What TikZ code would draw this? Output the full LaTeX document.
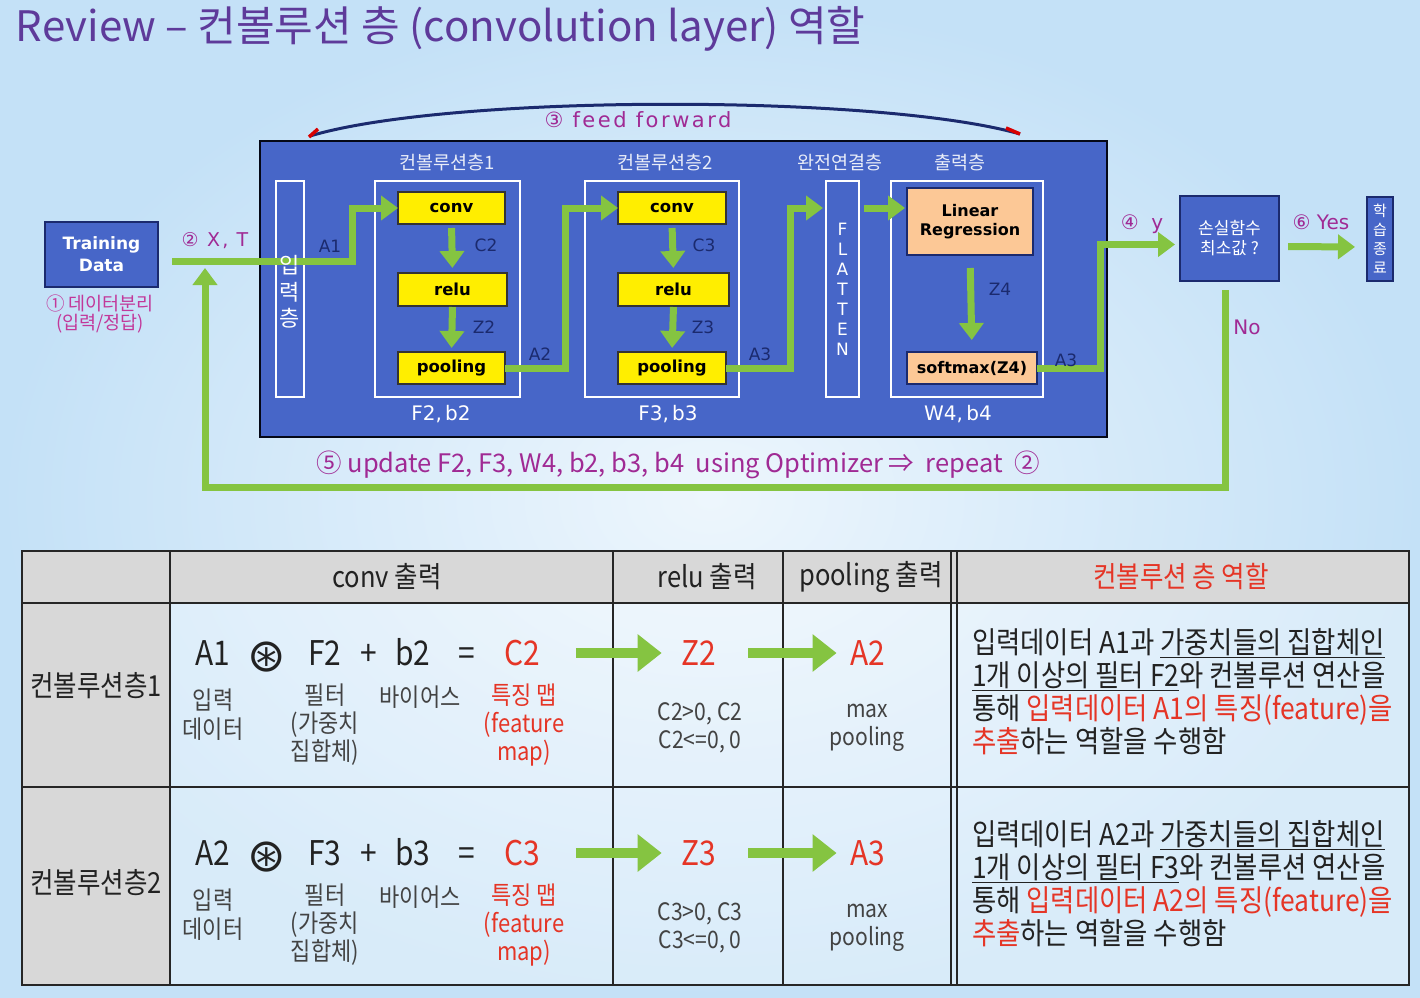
\documentclass[tikz,border=0pt]{standalone}
\usepackage{fontspec}
\usetikzlibrary{arrows.meta}
\setmainfont{Noto Sans CJK KR}
\newfontfamily\kr{Noto Sans CJK KR}
\newfontfamily\krn[FakeStretch=0.88]{Noto Sans CJK KR}
\newfontfamily\vd{DejaVu Sans}
\newfontfamily\vdw[LetterSpace=12]{DejaVu Sans}
\newcommand\fsz[2]{\fontsize{#1}{#2}\selectfont}

\definecolor{bgblue}{HTML}{C4E1F7}
\definecolor{panel}{HTML}{4766C8}
\definecolor{navy}{HTML}{1B2A6E}
\definecolor{gr}{HTML}{85C441}
\definecolor{yel}{HTML}{FFEE00}
\definecolor{peach}{HTML}{FCC896}
\definecolor{mag}{HTML}{A02A94}
\definecolor{pinkish}{HTML}{C2389A}
\definecolor{ttl}{HTML}{5E3A9A}
\definecolor{tred}{HTML}{E53526}
\definecolor{hdr}{HTML}{D8D8D8}
\definecolor{ink}{HTML}{222222}

\tikzset{
  every node/.style={inner sep=0pt, outer sep=0pt},
  blk/.style={draw=navy, line width=1.8pt, fill=panel, text=white},
  wframe/.style={draw=white, line width=1.8pt},
  ybox/.style={draw=black!80, line width=1.6pt, fill=yel, text=black,
    font=\vd\bfseries\fsz{16.5}{19}},
  pbox/.style={draw=navy, line width=1.6pt, fill=peach, text=black, align=center,
    font=\vd\bfseries\fsz{16}{19.5}},
  lbl/.style={font=\vd\fsz{17}{19}, text=navy},
  wlbl/.style={font=\vd\fsz{20}{22}, text=white},
  hlbl/.style={font=\kr\fsz{18.5}{20}, text=white!88!panel},
  mlbl/.style={font=\vd\fsz{20}{22}, text=mag},
  garrow/.style={draw=gr, line width=7pt, -{Triangle[length=17pt,width=24pt]}},
  tarrow/.style={draw=gr, line width=10pt, -{Triangle[length=24pt,width=36pt]}},
  eq/.style={font=\krn\fsz{34}{34}, text=ink, text height=25pt, text depth=0pt},
  sub/.style={font=\krn\fsz{25}{29}, text=ink!85, align=center},
  hd/.style={font=\krn\fsz{29}{30}, text=ink},
  rtx/.style={font=\krn\fsz{30}{33}, text=ink, anchor=west, text height=22pt, text depth=6pt},
}

\begin{document}
\begin{tikzpicture}[x=1pt,y=-1pt]
\useasboundingbox (0,0) rectangle (1420,997);
% backdrop
\shade[inner color=white!70!bgblue, outer color=bgblue] (0,0) rectangle (1420,997);

% title
\node[anchor=west, font=\kr\fsz{42}{44}, text=ttl] (title) at (16,29)
  {Review – 컨볼루션 층 (convolution layer) 역할};

% ---------- network diagram ----------
\node[blk, minimum width=113pt, minimum height=65pt, align=center,
  font=\vd\bfseries\fsz{17}{22}] (td) at (101.5,254.5) {Training\\Data};
\node[font=\kr\fsz{18.5}{19}, text=pinkish, align=center] (s1) at (100,314)
  {① 데이터분리\\(입력/정답)};
\node[font=\vdw\fsz{19}{22}, text=mag] (xt) at (215,241) {② X, T};

\node[blk, draw=black!80!navy, line width=2pt, minimum width=847pt,
  minimum height=296pt] (panel) at (683.5,289) {};

% feed-forward arc over the panel
\draw[navy, line width=3pt] (310,136) .. controls (450,94) and (880,94) .. (1020,134);
\draw[red!85!black, line width=3.5pt] (309,137) -- (318,129);
\draw[red!85!black, line width=3.5pt] (1006,128) -- (1020,134);
\node[font=\vdw\fsz{21}{24}, text=mag] (ff) at (638,120) {③ feed forward};

% layer frames
\node[wframe, minimum width=28pt,  minimum height=216pt] (inl)  at (290,289) {};
\node[wframe, minimum width=145pt, minimum height=216pt] (g1)   at (447.5,289) {};
\node[wframe, minimum width=154pt, minimum height=216pt] (g2)   at (662,289) {};
\node[wframe, minimum width=33pt,  minimum height=216pt] (flat) at (842.5,289) {};
\node[wframe, minimum width=152pt, minimum height=216pt] (g3)   at (967,289) {};

\node[hlbl] (h1) at (447,163) {컨볼루션층1};
\node[hlbl] (h2) at (665,163) {컨볼루션층2};
\node[hlbl] (h3) at (840,163) {완전연결층};
\node[hlbl] (h4) at (960,163) {출력층};

% operation boxes
\node[ybox, minimum width=107pt, minimum height=32pt] (conv1) at (451.5,208) {conv};
\node[ybox, minimum width=109pt, minimum height=33pt] (relu1) at (452.5,289.5) {relu};
\node[ybox, minimum width=107pt, minimum height=32pt] (pool1) at (451.5,368) {pooling};
\node[ybox, minimum width=108pt, minimum height=32pt] (conv2) at (672,208) {conv};
\node[ybox, minimum width=111pt, minimum height=33pt] (relu2) at (673.5,289.5) {relu};
\node[ybox, minimum width=108pt, minimum height=32pt] (pool2) at (672,368) {pooling};
\node[pbox, minimum width=126pt, minimum height=67pt] (lin) at (970,221.5) {Linear\\Regression};
\node[pbox, minimum width=130pt, minimum height=32pt] (soft) at (972,368) {softmax(Z4)};

\node[blk, minimum width=99pt, minimum height=85pt, align=center,
  font=\kr\fsz{17}{20}] (loss) at (1229.5,238.5) {손실함수\\최소값 ?};
\node[blk, minimum width=26pt, minimum height=84pt, align=center,
  font=\kr\fsz{15}{19}] (stop) at (1380,239) {학\\습\\종\\료};

% green connectors
\coordinate (xtstart) at (172,261);
\coordinate (loopend) at (205,268);
\draw[garrow] (xtstart) -- ++(180,0) |- (conv1.west);
\draw[garrow, shorten <=4pt, shorten >=5pt] (conv1.south) -- (relu1.north);
\draw[garrow, shorten <=1pt, shorten >=4pt] (relu1.south) -- (pool1.north);
\draw[garrow] (pool1.east) -- ++(60,0) |- (conv2.west);
\draw[garrow, shorten <=4pt, shorten >=5pt] (conv2.south) -- (relu2.north);
\draw[garrow, shorten <=1pt, shorten >=4pt] (relu2.south) -- (pool2.north);
\draw[garrow, shorten >=3pt] (pool2.east) -- ++(64,0) |- (flat.west |- conv2.west);
\draw[garrow, shorten <=5pt, shorten >=2pt] (flat.east |- conv2.west) -- (lin.west |- conv2.west);
\draw[garrow, shorten <=13pt, shorten >=12pt] (lin.south) -- (soft.north);
\draw[garrow, shorten >=5pt] (soft.east) -- ++(63,0) |- ([yshift=-6pt]loss.west);
\draw[garrow, shorten <=9pt, shorten >=12pt] ([yshift=-8pt]loss.east) -- ([yshift=-8pt]stop.west);
\draw[garrow, line join=miter] ([xshift=-4pt]loss.south) ++(0,9) -- ++(0,197) -| (loopend);

% text drawn over the lines
\node[font=\kr\fsz{22}{26.5}, text=white, align=center] (inltxt) at (290,292) {입\\력\\층};
\node[font=\vd\fsz{17}{20}, text=white, align=center] (flattxt) at (842.5,289)
  {F\\L\\A\\T\\T\\E\\N};

\node[lbl] (a1) at (330,246) {A1};
\node[lbl] (c2l) at (486,245) {C2};
\node[lbl] (z2l) at (484,327) {Z2};
\node[lbl] (a2l) at (540,354) {A2};
\node[lbl] (c3l) at (704,245) {C3};
\node[lbl] (z3l) at (703,327) {Z3};
\node[lbl] (a3l) at (760,354) {A3};
\node[lbl] (z4l) at (1000,289) {Z4};
\node[lbl] (a3o) at (1066,360) {A3};
\node[wlbl] (p1) at (441,414) {F2,\,b2};
\node[wlbl] (p2) at (668,414) {F3,\,b3};
\node[wlbl] (p3) at (958,414) {W4,\,b4};

\node[mlbl] (yl) at (1142,224) {④\ \ y};
\node[mlbl] (yes) at (1321,222) {⑥ Yes};
\node[mlbl] (no) at (1247,327) {No};
\node[font=\kr\fsz{25.5}{27}, text=mag] (upd) at (678,465)
  {⑤ update F2, F3, W4, b2, b3, b4\ \ using Optimizer ⇒\ \ repeat\ \ ②};

% ---------- summary table ----------
\fill[white, opacity=.35] (170,603) rectangle (1409,985);
\fill[hdr] (22,551) rectangle (1409,603);
\fill[hdr] (22,603) rectangle (170,985);
\begin{scope}[draw=black!85, line width=2pt]
  \draw (22,551) rectangle (1409,985);
  \draw (22,603) -- (1409,603);
  \draw (22,787) -- (1409,787);
  \foreach \cx in {170,613,783,951,957} \draw (\cx,551) -- (\cx,985);
\end{scope}

\node[hd] (th1) at (387,577) {conv 출력};
\node[hd] (th2) at (707,577) {relu 출력};
\node[hd] (th3) at (871,577) {pooling 출력};
\node[hd, text=tred] (th4) at (1181,577) {컨볼루션 층 역할};
\node[hd] (rl1) at (96,686) {컨볼루션층1};
\node[hd] (rl2) at (96,883) {컨볼루션층2};

\foreach \r/\y/\ina/\f/\b/\c/\z/\o/\ty in
  {1/653/A1/F2/b2/C2/Z2/A2/645, 2/853/A2/F3/b3/C3/Z3/A3/837}{
  \node[eq] (in\r) at (213,\y) {\ina};
  \node[eq, font=\vd\fsz{46}{46}, text height=33pt] (op\r) at (267,\y+2) {⊛};
  \node[eq] (f\r) at (325,\y) {\f};
  \node[eq] (pl\r) at (369,\y) {+};
  \node[eq] (b\r) at (413,\y) {\b};
  \node[eq] (es\r) at (467,\y) {=};
  \node[eq, text=tred] (c\r) at (522,\y) {\c};
  \node[eq, text=tred] (z\r) at (699,\y) {\z};
  \node[eq, text=tred] (o\r) at (868,\y) {\o};
  \draw[tarrow, shorten <=36pt, shorten >=20pt] (c\r) -- (z\r);
  \draw[tarrow, shorten <=32pt, shorten >=14pt] (z\r) -- (o\r);

  \node[sub] (d\r) at (213,\y+62) {입력\\데이터};
  \node[sub, font=\krn\fsz{25}{28}] (w\r) at (325,\y+72) {필터\\(가중치\\집합체)};
  \node[sub] (bi\r) at (420,\y+44) {바이어스};
  \node[sub, font=\krn\fsz{25}{28}, text=tred] (fm\r) at (524,\y+72) {특징 맵\\(feature\\map)};
  \node[sub, font=\krn\fsz{24}{28}] (rc\r) at (700,\y+75) {\c>0,\ \c\\\c<=0,\ 0};
  \node[sub, font=\krn\fsz{24}{28}] (mp\r) at (867,\y+75) {max\\pooling};

  \node[rtx] (t\r a) at (972,\ty) {입력데이터 \ina 과 \underline{가중치들의 집합체인}};
  \node[rtx] (t\r b) at (972,\ty+33) {\underline{1개 이상의 필터 \f}와 컨볼루션 연산을};
  \node[rtx] (t\r c) at (972,\ty+66) {통해 \textcolor{tred}{입력데이터 \ina 의 특징(feature)을}};
  \node[rtx] (t\r d) at (972,\ty+99) {\textcolor{tred}{추출}하는 역할을 수행함};
}
\end{tikzpicture}
\end{document}
